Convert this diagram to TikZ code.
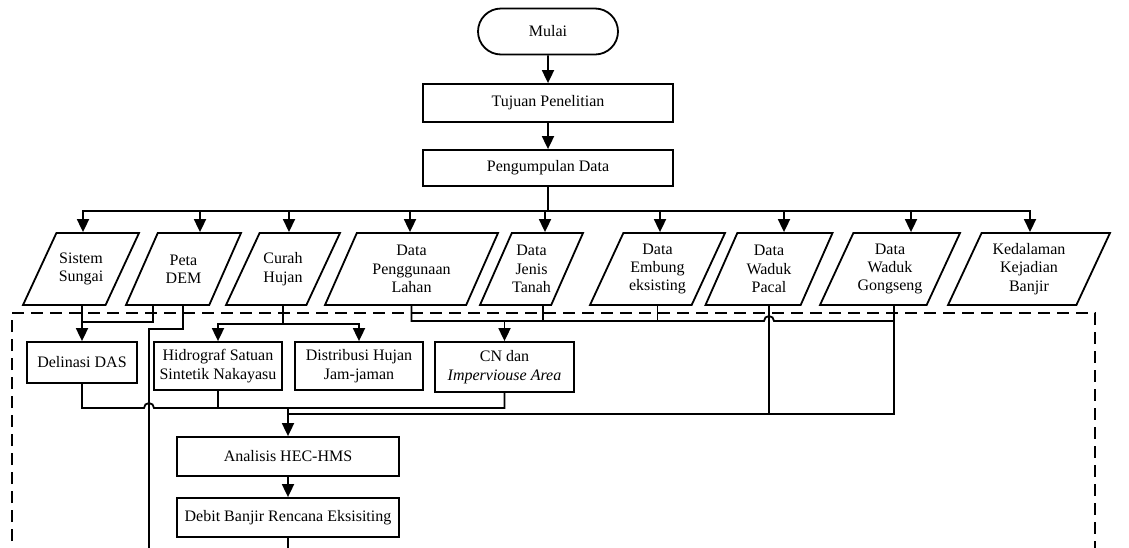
\documentclass[tikz,border=0pt]{standalone}
\usepackage{fontspec}
\setmainfont{Liberation Serif}
\usetikzlibrary{arrows.meta,shapes.geometric,shapes.misc}

\begin{document}
\begin{tikzpicture}[
	x=0.5pt,
	y=-0.5pt,
	font=\fontsize{8}{9.2}\selectfont,
	line width=0.9pt,
	term/.style={draw,rounded rectangle,minimum width=70pt,minimum height=23pt,inner sep=0pt},
	box/.style={draw,align=center,inner sep=0pt},
	data/.style={draw,trapezium,trapezium left angle=65,trapezium right angle=115,trapezium stretches body,align=center,minimum height=36pt,inner xsep=0pt,inner ysep=#1},
	data/.default=5.2pt,
	arr/.style={-{Triangle[width=6pt,length=6.5pt]}},
	grup/.style={line width=0.7pt,dash pattern=on 6pt off 3.5pt}
	]
	\useasboundingbox (0,0) rectangle (1129,547);
	\node[term] (N1) at (548,31.5) {Mulai};
	\node[box,minimum width=125pt,minimum height=19pt] (N2) at (548,103) {Tujuan Penelitian};
	\node[box,minimum width=125pt,minimum height=18pt] (N3) at (548,168) {Pengumpulan Data};
	\node[data=9.8pt,minimum width=58pt] (D1) at (81,269) {Sistem\\Sungai};
	\node[data=9.8pt,minimum width=57.5pt] (D2) at (183.5,269) {Peta\\DEM};
	\node[data=9.8pt,minimum width=57pt] (D3) at (283,269) {Curah\\Hujan};
	\node[data,minimum width=86.5pt] (D4) at (411.5,269) {Data\\Penggunaan\\Lahan};
	\node[data,minimum width=51.5pt] (D5) at (531.5,269) {Data\\Jenis\\Tanah};
	\node[data,minimum width=67.5pt] (D6) at (657.5,269) {Data\\Embung\\eksisting};
	\node[data,minimum width=63.5pt] (D7) at (769,269) {Data\\Waduk\\Pacal};
	\node[data,minimum width=70pt] (D8) at (890,269) {Data\\Waduk\\Gongseng};
	\node[data,minimum width=81pt] (D9) at (1029,269) {Kedalaman\\Kejadian\\Banjir};
	\node[box,minimum width=55pt,minimum height=20.5pt] (P1) at (82,362.5) {Delinasi DAS};
	\node[box,minimum width=64pt,minimum height=24pt] (P2) at (218,366) {Hidrograf Satuan\\Sintetik Nakayasu};
	\node[box,minimum width=64pt,minimum height=24pt] (P3) at (359,366) {Distribusi Hujan\\Jam-jaman};
	\node[box,minimum width=69.5pt,minimum height=25pt] (P4) at (504.5,367) {CN dan\\\textit{Imperviouse Area}};
	\node[box,minimum width=111pt,minimum height=19.5pt] (P5) at (288,456.5) {Analisis HEC-HMS};
	\node[box,minimum width=111pt,minimum height=19.5pt] (P6) at (288,517.5) {Debit Banjir Rencana Eksisiting};
	\coordinate (B) at (548,211);
	\coordinate (C1) at (283,324);
	\coordinate (E1) at (288,560);
	\coordinate (E2) at (149,560);
	\draw[grup] (12,560) -- (12,313) -- (1095,313) -- (1095,560);
	\draw[arr] (N1) -- (N2);
	\draw[arr] (N2) -- (N3);
	\draw (N3) -- (B);
	\foreach \d/\x in {D1/83,D2/200,D3/289,D4/410,D5/545,D6/660,D7/784,D8/911,D9/1030}
		\draw[arr] (B) -| (\d.north -| \x,0);
	\draw[arr] (D1.south -| P1.north) -- (P1.north);
	\draw (D2.south -| 153,0) |- (P1.north |- 0,322);
	\draw (D2.south -| 183,0) |- (149,329) -- (E2);
	\draw (D3.south) -- (C1);
	\draw[arr] (C1) -| (P2.north);
	\draw[arr] (C1) -| (P3.north);
	\draw (D4.south) |- (764,321) arc[start angle=180,end angle=0,radius=2.5pt] -| (D8.south -| 894,0);
	\draw (D5.south -| 543,0) -- (543,321);
	\draw (D6.south) -- (D6.south |- 0,321);
	\draw[arr] (P4.north |- 0,321) -- (P4.north);
	\draw (D7.south) -- (D7.south |- 0,414);
	\draw (P1.south) |- (144,408) arc[start angle=180,end angle=0,radius=2.5pt] -| (P4.south);
	\draw (P2.south) -- (P2.south |- 0,408);
	\draw[arr] (P5.north |- 0,408) -- (P5.north);
	\draw (P5.north |- 0,414) -| (D8.south -| 894,0);
	\draw[arr] (P5) -- (P6);
	\draw (P6) -- (E1);
\end{tikzpicture}
\end{document}
